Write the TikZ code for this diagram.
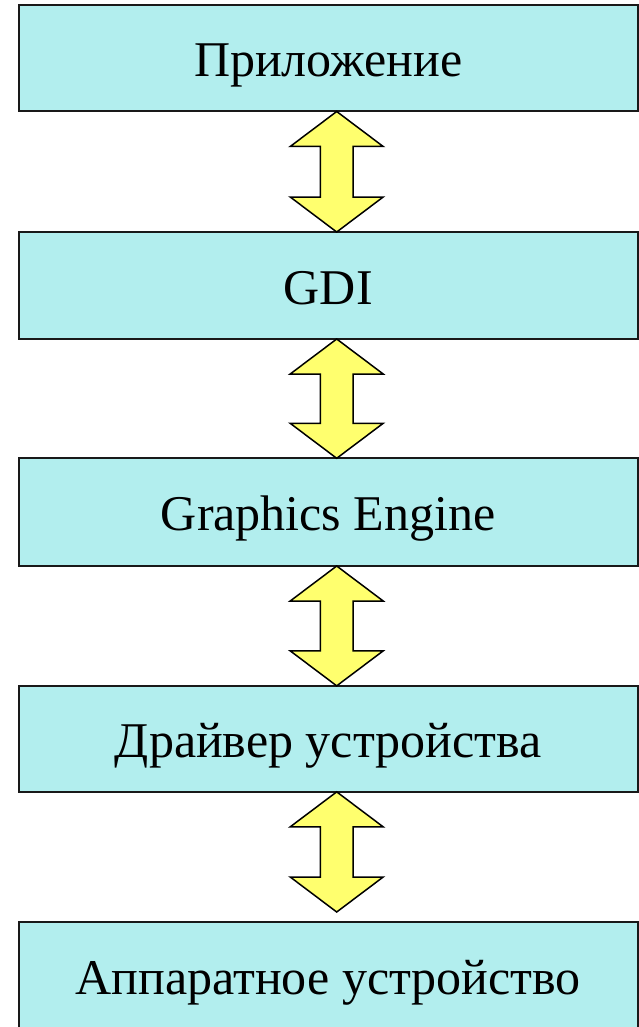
\documentclass[tikz,border=0pt]{standalone}
\usepackage{fontspec}
\setmainfont{Liberation Serif}
\usetikzlibrary{calc}

\definecolor{layerfill}{RGB}{178,238,238}
\definecolor{arrowfill}{RGB}{255,255,110}

% vertical double block arrow between two points on the same axis
\newcommand\linkarrow[2]{%
  \draw[linkarrowstyle] let \p1=(#1), \p2=(#2) in
    (\x1,\y1) -- (\x1+46.5pt,\y1-35pt) -- (\x1+16.3pt,\y1-35pt)
    -- (\x1+16.3pt,\y2+35pt) -- (\x1+46.5pt,\y2+35pt) -- (\x1,\y2)
    -- (\x1-46.5pt,\y2+35pt) -- (\x1-16.3pt,\y2+35pt)
    -- (\x1-16.3pt,\y1-35pt) -- (\x1-46.5pt,\y1-35pt) -- cycle;}

\begin{document}
\begin{tikzpicture}[x=1pt,y=-1pt,
  layer/.style={draw=black!90, line width=2pt, fill=layerfill,
    minimum width=619.5pt, inner sep=0pt, outer sep=0pt,
    text height=37pt, text depth=0pt,
    font=\fontsize{50}{60}\selectfont},
  linkarrowstyle/.style={draw=black, line width=1.5pt, fill=arrowfill, line join=miter}]
\clip (0,0) rectangle (639,1027);
\fill[white] (0,0) rectangle (639,1027);

\node[layer, minimum height=106pt]   (app)  at (328.25,58.5)   {Приложение};
\node[layer, minimum height=107pt]   (gdi)  at (328.25,285.5)  {GDI};
\node[layer, minimum height=107.7pt] (eng)  at (328.25,512.15) {Graphics Engine};
\node[layer, minimum height=106pt]   (drv)  at (328.25,738.85) {Драйвер устройства};
\node[layer, minimum height=108.5pt] (hw)   at (328.25,975.75) {Аппаратное устройство};

\coordinate (axis) at (336.7,0);
\coordinate (hwtop) at ($(hw.north -| axis)+(0,-9.5)$);

\linkarrow{app.south -| axis}{gdi.north -| axis}
\linkarrow{gdi.south -| axis}{eng.north -| axis}
\linkarrow{eng.south -| axis}{drv.north -| axis}
\linkarrow{drv.south -| axis}{hwtop}
\end{tikzpicture}
\end{document}
